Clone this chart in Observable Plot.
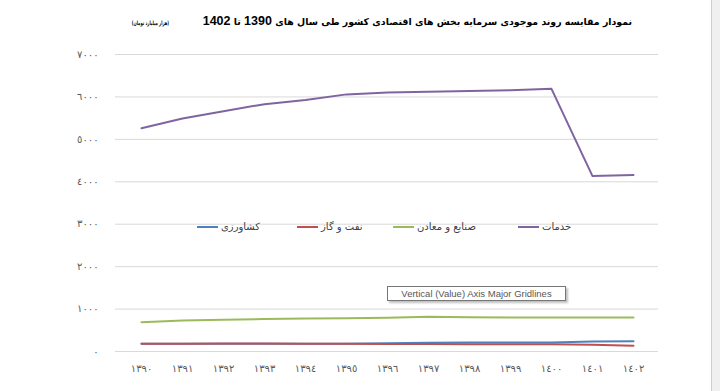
<!DOCTYPE html>
<html>
<head>
<meta charset="utf-8">
<script src="https://cdn.jsdelivr.net/npm/d3@7"></script>
<script src="https://cdn.jsdelivr.net/npm/@observablehq/plot@0.6"></script>
<style>
  html, body { margin: 0; padding: 0; background: #fff; }
  #wrap { position: relative; width: 720px; height: 391px; overflow: hidden; }
  #chart { position: absolute; left: 0; top: 0; }
  #title { position: absolute; right: 88px; top: 14px; direction: rtl; white-space: nowrap;
    font-family: "DejaVu Sans", sans-serif; font-weight: bold; font-size: 9.4px; color: #000; }
  #title .num { font-family: "Liberation Sans", Arial, sans-serif; font-size: 12.5px; }
  #title .unit { display: inline-block; font-size: 6px; font-weight: bold; margin-right: 34px;
    transform: scaleX(0.62); transform-origin: right center; }
  .leg { position: absolute; top: 221px; display: flex; align-items: center; white-space: nowrap;
    font-family: "DejaVu Sans", sans-serif; font-size: 10px; color: #404040; }
  .leg .sw { width: 21px; height: 2px; margin-right: 3px; }
  .leg .tx { direction: rtl; }
  #tip { position: absolute; left: 387px; top: 286px; width: 177px; height: 13px; background: #fff;
    border: 1px solid #767676; box-shadow: 2px 2px 2px rgba(0,0,0,0.25);
    font-family: "Liberation Sans", Arial, sans-serif; font-size: 9.5px; color: #575757;
    line-height: 13px; text-align: center; }
  #bar { position: absolute; left: 711px; top: 0; width: 9px; height: 391px; background: #f0f0f0;
    border-left: 1px solid #cfcfcf; }
</style>
</head>
<body>
<div id="wrap">
  <div id="chart"></div>
  <div id="title"><span>نمودار مقایسه روند موجودی سرمایه بخش های اقتصادی کشور طی سال های <span class="num">1390</span> تا <span class="num">1402</span></span><span class="unit">(هزار میلیارد تومان)</span></div>
  <div id="legend"></div>
  <div id="tip">Vertical (Value) Axis Major Gridlines</div>
  <div id="bar"></div>
</div>
<script>
const years = ["1390","1391","1392","1393","1394","1395","1396","1397","1398","1399","1400","1401","1402"];
const seriesNames = ["کشاورزی", "نفت و گاز", "صنایع و معادن", "خدمات"];
const seriesColors = ["#4F81BD", "#C0504D", "#9BBB59", "#8064A2"];
const agriculture = [180, 180, 182, 183, 183, 185, 195, 208, 210, 210, 215, 235, 240];
const oilGas      = [182, 185, 190, 188, 185, 182, 178, 175, 172, 170, 168, 160, 135];
const industry    = [690, 730, 750, 765, 775, 785, 795, 820, 805, 800, 800, 800, 800];
const services    = [5262, 5490, 5665, 5830, 5925, 6060, 6105, 6120, 6137, 6160, 6190, 4135, 4160];
const yTicks = [0, 1000, 2000, 3000, 4000, 5000, 6000, 7000];

const allSeries = [agriculture, oilGas, industry, services];
const rows = [];
allSeries.forEach((vals, si) => {
  vals.forEach((v, i) => rows.push({year: years[i], value: v, series: seriesNames[si]}));
});

const fa = s => String(s).replace(/\d/g, c => "٠١٢٣٤٥٦٧٨٩"[+c]);

const chart = Plot.plot({
  width: 720,
  height: 391,
  marginLeft: 115,
  marginRight: 62,
  marginTop: 54,
  marginBottom: 40,
  style: {fontFamily: "DejaVu Sans, sans-serif", fontSize: "10px", color: "#595959", background: "transparent"},
  x: {type: "point", domain: years, padding: 0.5, label: null},
  y: {domain: [0, 7000], label: null},
  color: {domain: seriesNames, range: seriesColors},
  marks: [
    Plot.gridY(yTicks, {stroke: "#d9d9d9", strokeOpacity: 1, strokeWidth: 1}),
    Plot.axisY(yTicks, {tickSize: 0, tickPadding: 17, tickFormat: fa, label: null, fill: "#595959"}),
    Plot.axisX({tickSize: 0, tickPadding: 13, tickFormat: fa, label: null, fill: "#595959"}),
    Plot.line(rows, {x: "year", y: "value", z: "series", stroke: "series", strokeWidth: 2, curve: "linear"})
  ]
});
document.getElementById("chart").appendChild(chart);

const legendPos = [197, 297, 393, 518];
const legend = document.getElementById("legend");
seriesNames.forEach((name, i) => {
  const item = document.createElement("div");
  item.className = "leg";
  item.style.left = legendPos[i] + "px";
  const sw = document.createElement("div");
  sw.className = "sw";
  sw.style.background = seriesColors[i];
  const tx = document.createElement("span");
  tx.className = "tx";
  tx.textContent = name;
  item.appendChild(sw);
  item.appendChild(tx);
  legend.appendChild(item);
});
</script>
</body>
</html>
